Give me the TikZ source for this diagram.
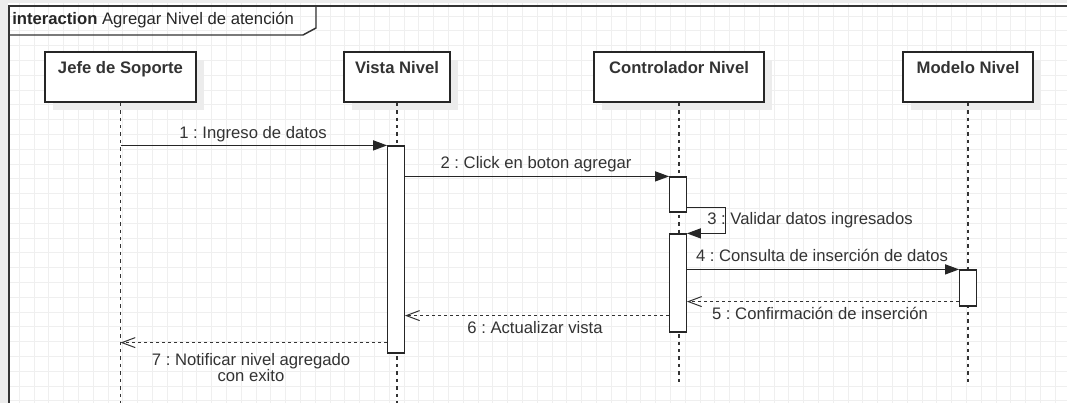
\documentclass[tikz,border=0pt]{standalone}
\usepackage{fontspec}
\setmainfont{Liberation Sans}
\usetikzlibrary{arrows.meta, positioning, calc, shadows}
\definecolor{umlInk}{HTML}{333333}
\definecolor{umlGrid}{HTML}{EFEFEF}
\definecolor{umlShade}{HTML}{ECECEC}
\frenchspacing

\begin{document}
\begin{tikzpicture}[x=0.75pt, y=-0.75pt,
  font=\fontsize{12.5}{15}\selectfont, text=umlInk,
  gridline/.style={draw=umlGrid, line width=0.75pt},
  frameline/.style={draw=umlInk, line width=1.1pt},
  lifebox/.style={draw=black!85, line width=0.9pt, fill=white, font=\fontsize{12.5}{15}\selectfont\bfseries,
    minimum width=#1, inner ysep=0pt, text height=16.1pt, text depth=21.4pt,
    drop shadow={shadow xshift=6pt, shadow yshift=-6pt, fill=umlShade, opacity=1}},
  lifeline/.style={draw=umlInk, line width=0.9pt, dash pattern=on 2.6pt off 3pt},
  actbar/.style={draw=black!85, line width=0.9pt, fill=white, minimum width=12.4pt, inner sep=0pt},
  msg/.style={draw=black!85, line width=0.9pt, -{Triangle[length=10.5pt, width=7.5pt]}},
  reply/.style={draw=umlInk, line width=0.75pt, dash pattern=on 2.5pt off 2pt,
    -{Straight Barb[length=10pt, width=7.5pt, line width=0.75pt]}},
  msglabel/.style={anchor=base, inner sep=0pt}]
  \useasboundingbox (0,0) rectangle (1067,403);

  % Grid and shading
  \fill[white] (0,0) rectangle (1067,403);
  \foreach \i in {0,...,72} \draw[gridline] ({4.5+14.8*\i},0) -- ++(0,403);
  \foreach \j in {0,...,27} \draw[gridline] (0,{1.3+14.8*\j}) -- ++(1067,0);
  \fill[umlShade] (0,0) rectangle (8,403);
  \fill[umlShade] (8,0) rectangle (1067,3);

  % Frame
  \draw[frameline] (1067,6) -- (9,6) -- (9,403);
  \draw[frameline] (9,35) -- (303,35) -- (316,28) -- (316,6);
  \node[anchor=base west, inner sep=0pt, text=black!85] (title) at (12,25)
    {\textbf{interaction} Agregar Nivel de atención};

  % Participants
  \node[lifebox=113.3pt] (jefe) at (120.5,77) {Jefe de Soporte};
  \node[lifebox=79.5pt] (vista) at (397,77) {Vista Nivel};
  \node[lifebox=127.5pt] (ctrl) at (679,77) {Controlador Nivel};
  \node[lifebox=97.5pt] (modelo) at (968,77) {Modelo Nivel};

  % Lifelines
  \draw[lifeline] (jefe.south) -- ++(0,301);
  \draw[lifeline] (vista.south) -- ++(0,301);
  \draw[lifeline] (ctrl.south) -- ++(0,279);
  \draw[lifeline] (modelo.south) -- ++(0,279);

  % Activations
  \node[actbar, minimum height=155.25pt] (vbar) at (396,249.5) {};
  \node[actbar, minimum height=26.25pt] (cbarA) at (678,194.5) {};
  \node[actbar, minimum height=73.5pt] (cbarB) at (678,283) {};
  \node[actbar, minimum height=27pt] (mbar) at (968,288) {};

  % Messages
  \draw[msg] (jefe.south |- vbar.north) -- (vbar.north west);
  \draw[msg] (vbar.east |- cbarA.north) -- (cbarA.north west);
  \draw[msg] ([yshift=3.75pt]cbarA.south east) -- ++(39,0) |- (cbarB.north east);
  \draw[msg] (cbarB.east |- mbar.north) -- (mbar.north west);
  \coordinate (r5) at ($(mbar.south west)+(0,-5)$);
  \draw[reply] (r5) -- (cbarB.east |- r5);
  \coordinate (r6) at ($(cbarB.south west)+(0,-17)$);
  \draw[reply] (r6) -- (vbar.east |- r6);
  \coordinate (r7) at ($(vbar.south west)+(0,-11)$);
  \draw[reply] (r7) -- (jefe.south |- r7);

  % Labels
  \node[msglabel] (l1) at (253,138) {1 : Ingreso de datos};
  \node[msglabel] (l2) at (536,168) {2 : Click en boton agregar};
  \node[msglabel, anchor=base west] (l3) at (707,224) {3 : Validar datos ingresados};
  \node[msglabel] (l4) at (822,261) {4 : Consulta de inserción de datos};
  \node[msglabel] (l5) at (820,319) {5 : Confirmación de inserción};
  \node[msglabel] (l6) at (535,333) {6 : Actualizar vista};
  \node[msglabel, align=center, font=\fontsize{12.5}{12}\selectfont] (l7) at (251,381)
    {7 : Notificar nivel agregado\\con exito};
\end{tikzpicture}
\end{document}
